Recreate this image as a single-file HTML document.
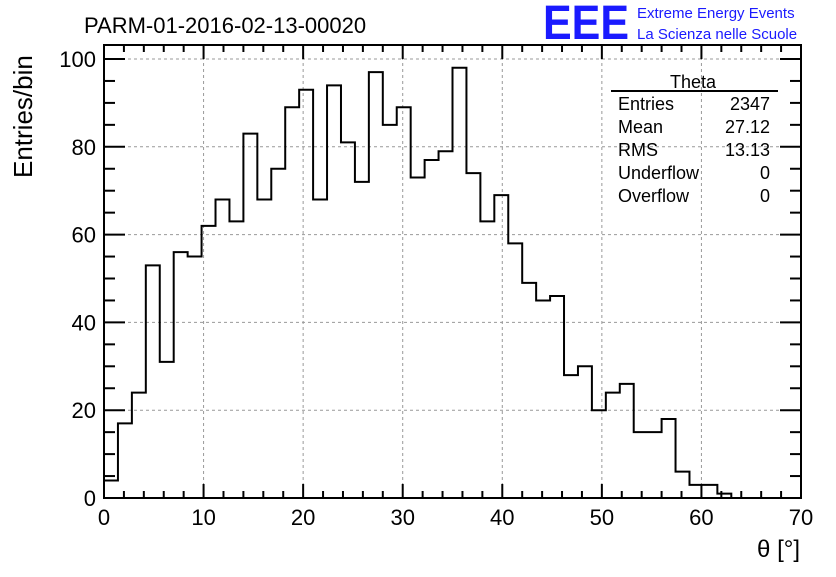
<!DOCTYPE html>
<html><head><meta charset="utf-8"><style>
body{margin:0;background:#fff;}
svg text{font-family:"Liberation Sans",sans-serif;}
</style></head><body>
<svg id="chart" width="836" height="572" xmlns="http://www.w3.org/2000/svg">
<rect x="0" y="0" width="836" height="572" fill="#fff"/>
<text x="84" y="33" font-size="22">PARM-01-2016-02-13-00020</text>
<text x="543" y="39" font-size="48" fill="#1a1aff" font-weight="bold" textLength="86" lengthAdjust="spacingAndGlyphs">EEE</text>
<text x="637" y="18" font-size="15" fill="#1a1aff">Extreme Energy Events</text>
<text x="637" y="39" font-size="15" fill="#1a1aff">La Scienza nelle Scuole</text>
<g id="grid"></g>
<g id="ticks"></g>
<path id="hist" fill="none" stroke="#000" stroke-width="2"/>
<rect x="104" y="45" width="697" height="453" fill="none" stroke="#000" stroke-width="2"/>
<g id="labels"></g>
<text x="0" y="0" font-size="26" transform="translate(32,178) rotate(-90)">Entries/bin</text>
<text x="800" y="557" font-size="24" text-anchor="end">θ [°]</text>
<g font-size="18">
<text x="693" y="88" text-anchor="middle">Theta</text>
<line x1="611" y1="91" x2="778" y2="91" stroke="#000" stroke-width="2"/>
<text x="618" y="110">Entries</text><text x="770" y="110" text-anchor="end">2347</text>
<text x="618" y="133">Mean</text><text x="770" y="133" text-anchor="end">27.12</text>
<text x="618" y="156">RMS</text><text x="770" y="156" text-anchor="end">13.13</text>
<text x="618" y="179">Underflow</text><text x="770" y="179" text-anchor="end">0</text>
<text x="618" y="202">Overflow</text><text x="770" y="202" text-anchor="end">0</text>
</g>
</svg>
<script>
const counts = [4,17,24,53,31,56,55,62,68,63,83,68,75,89,93,68,94,81,72,97,85,89,73,77,79,98,74,63,69,58,49,45,46,28,30,20,24,26,15,15,18,6,3,3,1,0,0,0,0,0];
const xTicks = [0,10,20,30,40,50,60,70];
const yTicks = [0,20,40,60,80,100];
const xMin=0,xMax=70,binW=1.4;
const X=v=>104+(v-xMin)/(xMax-xMin)*697;
const Y=v=>498-v/100*439;
const NS="http://www.w3.org/2000/svg";
function mk(tag,attrs,parent){const e=document.createElementNS(NS,tag);for(const k in attrs)e.setAttribute(k,attrs[k]);parent.appendChild(e);return e;}
const grid=document.getElementById('grid'),ticks=document.getElementById('ticks'),labels=document.getElementById('labels');
xTicks.forEach(t=>{
  if(t>0&&t<70){const g=mk('line',{x1:X(t),x2:X(t),y1:45,y2:498,stroke:'#999','stroke-dasharray':'3,3'},grid);
  
  }
  const l=mk('text',{x:X(t),y:525,'font-size':22,'text-anchor':'middle'},labels);l.textContent=t;
  
  
});
yTicks.forEach(t=>{
  if(t>0){const g=mk('line',{x1:104,x2:801,y1:Y(t),y2:Y(t),stroke:'#999','stroke-dasharray':'3,3'},grid);
  
  }
  const l=mk('text',{x:96,y:Y(t)+8,'font-size':22,'text-anchor':'end'},labels);l.textContent=t;
  
  
});
for(let v=0;v<=70;v+=2){const len=(v%10===0)?14:7;
  mk('line',{x1:X(v),x2:X(v),y1:498,y2:498-len,stroke:'#000','stroke-width':2},ticks);
  mk('line',{x1:X(v),x2:X(v),y1:45,y2:45+len,stroke:'#000','stroke-width':2},ticks);}
for(let v=0;v<=100;v+=5){const len=(v%20===0)?21:11;
  mk('line',{x1:104,x2:104+len,y1:Y(v),y2:Y(v),stroke:'#000','stroke-width':2},ticks);
  mk('line',{x1:801,x2:801-len,y1:Y(v),y2:Y(v),stroke:'#000','stroke-width':2},ticks);}
let d='M'+X(0)+','+Y(0);
counts.forEach((c,i)=>{d+=' L'+X(i*binW)+','+Y(c)+' L'+X((i+1)*binW)+','+Y(c);});
d+=' L'+X(counts.length*binW)+','+Y(0);
document.getElementById('hist').setAttribute('d',d);
</script>
</body></html>
